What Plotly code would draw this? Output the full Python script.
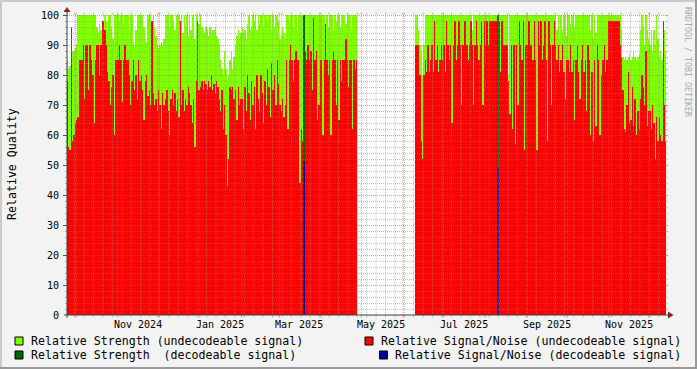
import pandas as pd
import plotly.graph_objects as go

# ---------------- data: daily relative quality (%) ----------------
# None = no data for that day
strength_2024_09 = [85, 82, 83, 88, 88, 88, 89]                      # from 2024-09-24
snr_2024_09      = [78, 56, 55, 96, 58, 60, 64]

strength_2024_10 = [90,100,100,100,100,100,100,100,100,100,100,100,100,100,100,96,94,97,95,93,96,100,98,95,100,100,96,92,100,100,100]
snr_2024_10      = [65,66,85,85,85,90,72,90,90,75,90,85,80,64,85,90,90,80,90,98,98,95,90,81,78,70,76,80,60,85,85]

strength_2024_11 = [100,98,100,100,97,100,100,100,95,100,100,91,90,95,100,100,100,100,100,96,92,91,100,100,100,98,100,96,93,90]
snr_2024_11      = [85,90,85,71,85,90,85,85,80,70,78,85,75,80,72,85,78,80,75,65,78,80,73,75,70,98,74,70,72,68]

strength_2024_12 = [89,90,91,90,92,100,100,100,96,100,100,98,95,100,100,100,97,100,94,100,96,100,93,100,95,100,100,92,100,100,97]
snr_2024_12      = [75,70,62,74,70,72,75,68,60,72,75,70,74,68,72,66,98,70,75,68,72,70,76,74,70,64,72,56,78,98,75]

strength_2025_01 = [100,96,95,94,96,95,93,96,94,95,95,96,93,92,90,85,82,80,88,82,78,80,85,88,82,86,90,93,95,92,94]
snr_2025_01      = [76,78,75,78,77,75,78,76,80,75,77,74,78,76,72,68,75,62,70,60,43,52,76,75,76,72,75,65,76,70,72]

strength_2025_02 = [96,94,95,92,97,100,95,96,100,98,100,95,100,97,100,100,96,100,100,98,100,100,95,100,96,100,100,98]
snr_2025_02      = [72,62,76,68,80,74,65,78,70,76,62,80,72,68,80,74,64,78,70,82,76,66,84,75,80,70,85,77]

strength_2025_03 = [92,93,96,94,92,100,100,98,100,100,96,100,100,95,100,100,100,100,None,100,100,100,100,100,100,100,100,100,100,100,100]
snr_2025_03      = [70,68,72,66,70,85,62,85,90,85,78,85,88,85,85,44,62,58,None,88,85,90,85,88,75,99,85,88,65,70,85]

strength_2025_04 = [100,100,100,97,100,96,100,100,100,95,100,98,100,100,96,100,100,100,97,100,100,100,95,100,100,100,100]   # to 2025-04-27
snr_2025_04      = [85,60,85,97,85,80,85,60,85,88,85,70,85,65,85,78,85,85,92,85,76,85,85,62,85,82,85]

strength_2025_06 = [100,100,95,90,88,80,90,100,100,100,100,100,100,100,100,100,100,100,100,100,100]   # from 2025-06-10
snr_2025_06      = [90,90,90,80,58,52,80,85,81,90,81,85,90,81,98,85,90,81,85,90,85]

strength_2025_07 = [100,100,100,100,100,100,100,100,100,100,100,100,100,100,100,100,100,100,100,100,100,95,100,100,100,100,100,100,100,100,100]
snr_2025_07      = [90,81,98,90,85,90,64,90,98,85,90,98,90,70,90,98,98,90,85,90,98,90,70,90,98,90,85,90,98,70,98]

strength_2025_08 = [100,100,100,100,100,100,100,100,100,None,100,100,100,100,100,100,100,80,100,100,100,100,100,100,100,100,100,100,100,100,100]
snr_2025_08      = [90,98,90,98,98,98,98,98,98,None,98,81,98,90,90,90,90,78,67,90,62,90,57,90,70,98,90,85,98,55,90]

strength_2025_09 = [100,100,100,100,100,100,100,100,100,100,100,100,100,100,100,100,100,100,100,100,100,100,95,100,92,100,95,100,100,93]
snr_2025_09      = [90,98,90,90,85,98,85,55,98,90,98,85,90,98,85,58,98,90,70,90,98,90,85,90,81,85,90,81,72,85]

strength_2025_10 = [100,100,97,100,100,96,100,100,100,100,100,100,100,100,100,100,100,95,100,92,100,94,100,100,100,100,100,100,100,100,100]
snr_2025_10      = [85,81,90,81,85,65,85,90,81,72,85,90,81,85,68,90,85,60,81,58,85,63,90,85,60,80,85,90,81,85,98]

strength_2025_11 = [100,100,100,100,100,100,100,100,100,95,86,85,86,85,86,87,85,86,88,86,85,86,87,95,100,96,90,100,95,92]
snr_2025_11      = [98,98,98,98,98,98,98,98,90,86,75,62,61,70,81,64,65,76,63,72,60,68,62,72,80,76,70,88,63,68]

strength_2025_12 = [90,95,88,95,90,100,92,86,88,85,90,95,88]
snr_2025_12      = [68,62,70,64,52,66,58,66,60,58,98,70,58]

# decodeable signal (only two days)
dec_days     = ["2025-03-19", "2025-08-10"]
dec_strength = [100, 100]
dec_snr      = [51, 49]

y_ticks = [0, 10, 20, 30, 40, 50, 60, 70, 80, 90, 100]
x_label_months = ["2024-11-01", "2025-01-01", "2025-03-01", "2025-05-01", "2025-07-01", "2025-09-01", "2025-11-01"]
x_label_text   = ["Nov 2024", "Jan 2025", "Mar 2025", "May 2025", "Jul 2025", "Sep 2025", "Nov 2025"]

segments = [
    ("2024-09-24", strength_2024_09, snr_2024_09),
    ("2024-10-01", strength_2024_10, snr_2024_10),
    ("2024-11-01", strength_2024_11, snr_2024_11),
    ("2024-12-01", strength_2024_12, snr_2024_12),
    ("2025-01-01", strength_2025_01, snr_2025_01),
    ("2025-02-01", strength_2025_02, snr_2025_02),
    ("2025-03-01", strength_2025_03, snr_2025_03),
    ("2025-04-01", strength_2025_04, snr_2025_04),
    ("2025-06-10", strength_2025_06, snr_2025_06),
    ("2025-07-01", strength_2025_07, snr_2025_07),
    ("2025-08-01", strength_2025_08, snr_2025_08),
    ("2025-09-01", strength_2025_09, snr_2025_09),
    ("2025-10-01", strength_2025_10, snr_2025_10),
    ("2025-11-01", strength_2025_11, snr_2025_11),
    ("2025-12-01", strength_2025_12, snr_2025_12),
]

days, strength, snr = [], [], []
for start, s_vals, n_vals in segments:
    d0 = pd.Timestamp(start)
    for i, (s, n) in enumerate(zip(s_vals, n_vals)):
        days.append((d0 + pd.Timedelta(days=i, hours=12)).strftime("%Y-%m-%d %H:%M"))
        strength.append(s)
        snr.append(n)
dec_x = [(pd.Timestamp(d) + pd.Timedelta(hours=12)).strftime("%Y-%m-%d %H:%M") for d in dec_days]

# ---------------- layout geometry ----------------
W, H = 697, 369
L, R, T, B = 67, 31, 15, 54
PW, PH = W - L - R, H - T - B
def px(x):
    return (x - L) / PW
def py(y):
    return (H - B - y) / PH

PX_PER_DAY = 1.3457
x_start = pd.Timestamp("2024-09-24 07:12")
x_end = x_start + pd.Timedelta(days=PW / PX_PER_DAY)
DAY_MS = 86400000

FONT = "DejaVu Sans Mono"
GREEN, RED, DKGREEN, BLUE = "rgba(127,255,0,0.999)", "rgba(255,0,0,0.999)", "rgba(0,102,0,0.999)", "rgba(0,0,153,0.999)"

fig = go.Figure()
fig.add_bar(x=days, y=strength, width=DAY_MS, marker=dict(color=GREEN, line=dict(width=0)), hoverinfo="skip")
fig.add_bar(x=days, y=snr, width=DAY_MS, marker=dict(color=RED, line=dict(width=0)), hoverinfo="skip")
fig.add_bar(x=dec_x, y=dec_strength, width=DAY_MS, marker=dict(color=DKGREEN, line=dict(width=0)), hoverinfo="skip")
fig.add_bar(x=dec_x, y=dec_snr, width=DAY_MS, marker=dict(color=BLUE, line=dict(width=0)), hoverinfo="skip")

shapes = []
MINOR = "rgba(150,150,150,0.55)"
MAJOR = "rgba(230,80,70,0.6)"
DOT = "1px,1px"

# horizontal grid
for v in range(2, 101, 2):
    col = MAJOR if v % 10 == 0 else MINOR
    yv = v - 0.5 / 3
    shapes.append(dict(type="line", xref="paper", yref="y", x0=0, x1=1, y0=yv, y1=yv,
                       line=dict(color=col, width=1, dash=DOT), layer="above"))
    shapes.append(dict(type="line", xref="paper", yref="y", x0=px(666), x1=px(668), y0=yv, y1=yv,
                       line=dict(color=col, width=1), layer="above"))
for v in range(0, 101, 2):
    yv = v - 0.5 / 3
    if v % 10 == 0:
        shapes.append(dict(type="line", xref="paper", yref="y", x0=px(63), x1=px(67), y0=yv, y1=yv,
                           line=dict(color="#555555", width=1), layer="above"))
    else:
        shapes.append(dict(type="line", xref="paper", yref="y", x0=px(65), x1=px(67), y0=yv, y1=yv,
                           line=dict(color="#AAAAAA", width=1), layer="above"))

# vertical grid: weekly (Monday) minor, monthly major
mondays = pd.date_range("2024-09-30", x_end, freq="7D")
month_starts = pd.date_range("2024-10-01", x_end, freq="MS")
for t_list, col in ((mondays, MINOR), (month_starts, MAJOR)):
    for t in t_list:
        ts = t.strftime("%Y-%m-%d")
        shapes.append(dict(type="line", xref="x", yref="paper", x0=ts, x1=ts, y0=0, y1=1,
                           line=dict(color=col, width=1, dash=DOT), layer="above"))
        shapes.append(dict(type="line", xref="x", yref="paper", x0=ts, x1=ts, y0=py(315), y1=py(317.5),
                           line=dict(color=col, width=1), layer="above"))
        shapes.append(dict(type="line", xref="x", yref="paper", x0=ts, x1=ts, y0=py(12.5), y1=py(15),
                           line=dict(color=col, width=1), layer="above"))

# axes + arrows
AXIS = "#3A4448"
ARROW = "#8A2020"
shapes.append(dict(type="line", xref="paper", yref="paper", x0=px(67), x1=px(67), y0=py(318), y1=py(11),
                   line=dict(color=AXIS, width=1), layer="above"))
shapes.append(dict(type="line", xref="paper", yref="paper", x0=px(64), x1=px(669), y0=py(315), y1=py(315),
                   line=dict(color=AXIS, width=1), layer="above"))
shapes.append(dict(type="path", xref="paper", yref="paper",
                   path=f"M{px(63.5)},{py(12)} L{px(70.5)},{py(12)} L{px(67)},{py(7)} Z",
                   fillcolor=ARROW, line=dict(width=0), layer="above"))
shapes.append(dict(type="path", xref="paper", yref="paper",
                   path=f"M{px(668)},{py(311.5)} L{px(668)},{py(318.5)} L{px(673.5)},{py(315)} Z",
                   fillcolor=ARROW, line=dict(width=0), layer="above"))

# border (shade)
shapes += [
    dict(type="rect", xref="paper", yref="paper", x0=px(0), x1=px(697), y0=py(0), y1=py(2),
         fillcolor="#CBCBCB", line=dict(width=0), layer="above"),
    dict(type="rect", xref="paper", yref="paper", x0=px(0), x1=px(2), y0=py(0), y1=py(369),
         fillcolor="#CBCBCB", line=dict(width=0), layer="above"),
    dict(type="rect", xref="paper", yref="paper", x0=px(0), x1=px(697), y0=py(367), y1=py(369),
         fillcolor="#999999", line=dict(width=0), layer="above"),
    dict(type="rect", xref="paper", yref="paper", x0=px(695), x1=px(697), y0=py(0), y1=py(369),
         fillcolor="#999999", line=dict(width=0), layer="above"),
]

# legend boxes
legend_boxes = [((15, 337), "#7FFF00"), ((365, 337), "#FF0000"), ((15, 351), "#006600"), ((379.5, 351), "#000099")]
for (bx, by), col in legend_boxes:
    shapes.append(dict(type="rect", xref="paper", yref="paper", x0=px(bx), x1=px(bx + 8), y0=py(by), y1=py(by + 8),
                       fillcolor=col, line=dict(color="#000000", width=1), layer="above"))

annotations = []
for v in y_ticks:
    annotations.append(dict(text=str(v), xref="paper", x=px(61), xanchor="right", yref="y", y=v, yanchor="middle",
                            showarrow=False, font=dict(family=FONT, size=10, color="#000000")))
for m, txt in zip(x_label_months, x_label_text):
    xl = (pd.Timestamp(m) + pd.Timedelta(days=15)).strftime("%Y-%m-%d")
    annotations.append(dict(text=txt, xref="x", x=xl, xanchor="center", yref="paper", y=py(324.5), yanchor="middle",
                            showarrow=False, font=dict(family=FONT, size=10, color="#000000")))
LEG = 11.6
legend_texts = [
    ("Relative Strength (undecodeable signal)", 29, 341),
    ("Relative Signal/Noise (undecodeable signal)", 379, 341),
    ("Relative Strength\u00a0 (decodeable signal)", 29, 355),
    ("Relative Signal/Noise (decodeable signal)", 393.3, 355),
]
for txt, lx, ly in legend_texts:
    annotations.append(dict(text=txt, xref="paper", x=px(lx), xanchor="left", yref="paper", y=py(ly), yanchor="middle",
                            showarrow=False, font=dict(family=FONT, size=LEG, color="#000000")))
annotations.append(dict(text="Relative Quality", xref="paper", x=px(12), xanchor="center", yref="paper", y=py(164),
                        yanchor="middle", textangle=-90, showarrow=False, font=dict(family=FONT, size=LEG, color="#000000")))
annotations.append(dict(text="RRDTOOL / TOBI OETIKER", xref="paper", x=px(688), xanchor="center", yref="paper", y=py(5),
                        yanchor="top", textangle=90, showarrow=False, font=dict(family=FONT, size=8.3, color="#AAAAAA")))

fig.update_layout(
    width=W, height=H, margin=dict(l=L, r=R, t=T, b=B, pad=0),
    paper_bgcolor="#F3F3F3", plot_bgcolor="#FFFFFF",
    barmode="overlay", bargap=0, bargroupgap=0, showlegend=False,
    font=dict(family=FONT, size=10, color="#000000"),
    shapes=shapes, annotations=annotations,
)
fig.update_xaxes(type="date", range=[x_start.strftime("%Y-%m-%d %H:%M:%S"), x_end.strftime("%Y-%m-%d %H:%M:%S")],
                 showgrid=False, zeroline=False, showticklabels=False, ticks="", showline=False)
fig.update_yaxes(range=[0, 100], showgrid=False, zeroline=False, showticklabels=False, ticks="", showline=False)

fig.write_html("out.html", config={"displayModeBar": False},
               post_script="document.body.style.margin='0px';document.body.style.padding='0px';document.body.style.overflow='hidden';")
